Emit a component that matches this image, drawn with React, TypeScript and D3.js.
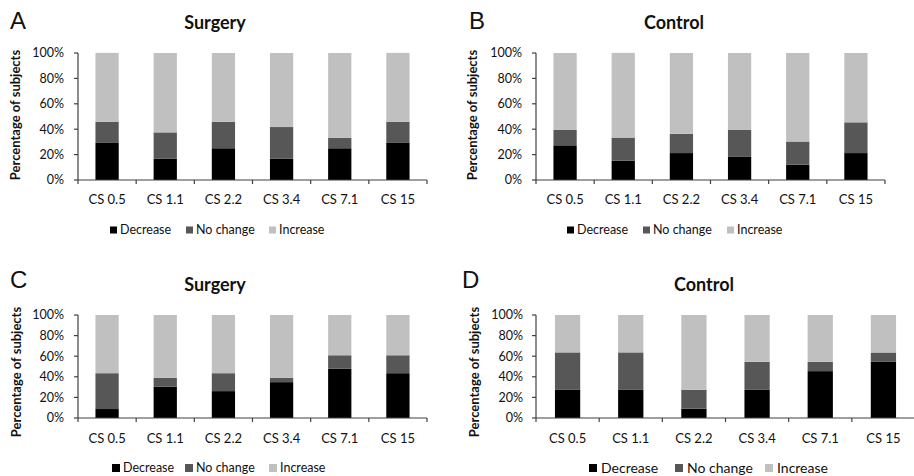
import React from "react";
import * as d3 from "d3";

const categories = ["CS 0.5", "CS 1.1", "CS 2.2", "CS 3.4", "CS 7.1", "CS 15"];
const seriesNames = ["Decrease", "No change", "Increase"];
const yTickValues = [0, 20, 40, 60, 80, 100];

const aDecrease = [29.2, 16.7, 25.0, 16.7, 25.0, 29.2];
const aNoChange = [16.7, 20.8, 20.8, 25.0, 8.3, 16.7];
const aIncrease = [54.2, 62.5, 54.2, 58.3, 66.7, 54.2];

const bDecrease = [27.3, 15.2, 21.2, 18.2, 12.1, 21.2];
const bNoChange = [12.1, 18.2, 15.2, 21.2, 18.2, 24.2];
const bIncrease = [60.6, 66.7, 63.6, 60.6, 69.7, 54.6];

const cDecrease = [8.7, 30.4, 26.1, 34.8, 47.8, 43.5];
const cNoChange = [34.8, 8.7, 17.4, 4.3, 13.1, 17.4];
const cIncrease = [56.5, 60.9, 56.5, 60.9, 39.1, 39.1];

const dDecrease = [27.3, 27.3, 9.1, 27.3, 45.5, 54.5];
const dNoChange = [36.4, 36.4, 18.2, 27.3, 9.1, 9.1];
const dIncrease = [36.3, 36.3, 72.7, 45.4, 45.4, 36.4];

const COLORS = ["#000000", "#575757", "#c0c0c0"];
const AXIS = "#404040";
const FONT = "Lato, 'Open Sans', sans-serif";

type PanelSpec = {
  letter: string;
  title: string;
  dec: number[];
  nc: number[];
  inc: number[];
  x0: number;
  x1: number;
  yTop: number;
  yBottom: number;
  letterX: number;
  letterY: number;
  titleX: number;
  titleY: number;
  tickLabelX: number;
  yLabelX: number;
  yLabelY: number;
  xLabelY: number;
  legendY: number;
  legendXs: number[];
  legendSize: number;
  legendGap: number;
  legendBox: number;
};

const panels: PanelSpec[] = [
  {
    letter: "A", title: "Surgery", dec: aDecrease, nc: aNoChange, inc: aIncrease,
    x0: 78, x1: 427, yTop: 53, yBottom: 180,
    letterX: 10, letterY: 29, titleX: 215, titleY: 29,
    tickLabelX: 64, yLabelX: 20, yLabelY: 115, xLabelY: 204,
    legendY: 230, legendXs: [110, 186, 269], legendSize: 12.5, legendGap: 10, legendBox: 7,
  },
  {
    letter: "B", title: "Control", dec: bDecrease, nc: bNoChange, inc: bIncrease,
    x0: 536, x1: 885, yTop: 53, yBottom: 180,
    letterX: 469, letterY: 29, titleX: 674, titleY: 29,
    tickLabelX: 522, yLabelX: 477, yLabelY: 115, xLabelY: 204,
    legendY: 230, legendXs: [567, 643, 727], legendSize: 12.5, legendGap: 10, legendBox: 7,
  },
  {
    letter: "C", title: "Surgery", dec: cDecrease, nc: cNoChange, inc: cIncrease,
    x0: 78, x1: 427, yTop: 315, yBottom: 418,
    letterX: 10, letterY: 288, titleX: 215, titleY: 291,
    tickLabelX: 64, yLabelX: 21, yLabelY: 372, xLabelY: 443,
    legendY: 468, legendXs: [112, 185, 269], legendSize: 12.5, legendGap: 11, legendBox: 8,
  },
  {
    letter: "D", title: "Control", dec: dDecrease, nc: dNoChange, inc: dIncrease,
    x0: 536, x1: 915, yTop: 315, yBottom: 418,
    letterX: 462, letterY: 288, titleX: 704, titleY: 291,
    tickLabelX: 523, yLabelX: 479, yLabelY: 372, xLabelY: 443,
    legendY: 468, legendXs: [589, 675, 765], legendSize: 14, legendGap: 12, legendBox: 8,
  },
];

function Panel({ p }: { p: PanelSpec }) {
  const x = d3.scaleBand<string>().domain(categories).range([p.x0, p.x1]).paddingInner(0.6).paddingOuter(0.3);
  const y = d3.scaleLinear().domain([0, 100]).range([p.yBottom, p.yTop]);
  const rows = categories.map((c, i) => ({ cat: c, Decrease: p.dec[i], "No change": p.nc[i], Increase: p.inc[i] }));
  const stacked = d3.stack<any>().keys(seriesNames)(rows);
  const step = x.step();
  const boundaries = d3.range(categories.length + 1).map((k) => p.x0 + k * step);

  return (
    <g>
      <text x={p.letterX} y={p.letterY} fontFamily="'Liberation Sans', Arial, sans-serif" fontSize={24} fill="#111">{p.letter}</text>
      <text x={p.titleX} y={p.titleY} textAnchor="middle" fontFamily={FONT} fontWeight="bold" fontSize={18} fill="#111">{p.title}</text>
      {stacked.map((s, si) => (
        <g key={si} fill={COLORS[si]}>
          {s.map((d, i) => (
            <rect key={i} x={x(categories[i])} width={x.bandwidth()} y={y(d[1])} height={y(d[0]) - y(d[1])} />
          ))}
        </g>
      ))}
      <line x1={p.x0} x2={p.x0} y1={p.yTop} y2={p.yBottom} stroke={AXIS} strokeWidth={1.2} />
      {yTickValues.map((v) => (
        <g key={v}>
          <line x1={p.x0 - 4} x2={p.x0} y1={y(v)} y2={y(v)} stroke={AXIS} strokeWidth={1.2} />
          <text x={p.tickLabelX} y={y(v)} dy="0.35em" textAnchor="end" fontFamily={FONT} fontSize={12.5} fill="#111">{v}%</text>
        </g>
      ))}
      <line x1={p.x0} x2={p.x1} y1={p.yBottom} y2={p.yBottom} stroke={AXIS} strokeWidth={1.2} />
      {boundaries.map((bx, i) => (
        <line key={i} x1={bx} x2={bx} y1={p.yBottom} y2={p.yBottom + 4} stroke={AXIS} strokeWidth={1.2} />
      ))}
      {categories.map((c) => (
        <text key={c} x={(x(c) as number) + x.bandwidth() / 2} y={p.xLabelY} textAnchor="middle" fontFamily={FONT} fontSize={13} fill="#111">{c}</text>
      ))}
      <text transform={`translate(${p.yLabelX},${p.yLabelY}) rotate(-90)`} textAnchor="middle" fontFamily={FONT} fontWeight="bold" fontSize={13} fill="#111">Percentage of subjects</text>
      {seriesNames.map((n, i) => (
        <g key={n}>
          <rect x={p.legendXs[i]} y={p.legendY - p.legendBox / 2} width={p.legendBox} height={p.legendBox} fill={COLORS[i]} />
          <text x={p.legendXs[i] + p.legendGap} y={p.legendY} dy="0.35em" fontFamily={FONT} fontSize={p.legendSize} fill="#111">{n}</text>
        </g>
      ))}
    </g>
  );
}

export default function App() {
  return (
    <svg width={914} height={476} style={{ position: "absolute", left: 0, top: 0, background: "#fff" }}>
      <rect width={914} height={476} fill="#fff" />
      {panels.map((p) => (
        <Panel key={p.letter} p={p} />
      ))}
    </svg>
  );
}
